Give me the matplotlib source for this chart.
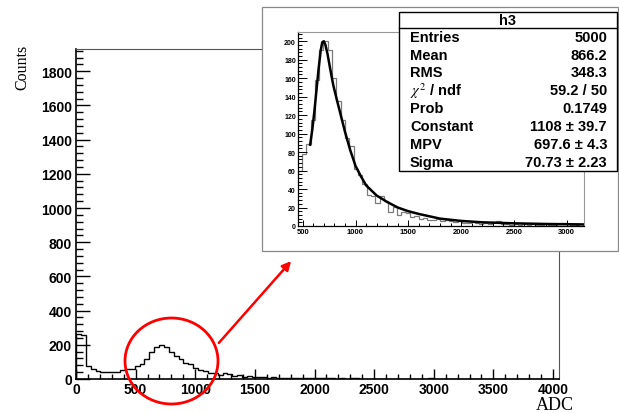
import matplotlib

matplotlib.use("Agg")

import matplotlib.pyplot as plt
import numpy as np
from matplotlib.patches import Ellipse, FancyArrowPatch, Rectangle
from matplotlib.ticker import MultipleLocator

plt.rcParams["font.family"] = ["Liberation Sans", "DejaVu Sans"]
plt.rcParams["mathtext.fontset"] = "stix"

# h3: 100 bins over 0..4096 ADC
bin_width = 40.96
counts = [
    262, 258, 76, 58, 47, 41, 40, 39, 42, 53,
    56, 60, 78, 89, 115, 158, 190, 200, 190, 160,
    135, 115, 95, 87, 62, 55, 45, 34, 33, 25,
    33, 27, 15, 21, 12, 15, 14, 10, 11, 8,
    9, 7, 7, 8, 5, 6, 5, 4, 5, 3,
    3, 4, 3, 2, 3, 2, 4, 5, 2, 2,
    1, 2, 1, 2, 1, 2, 1, 1, 0, 1,
    1, 2, 3, 2, 1, 1, 0, 1, 0, 0,
    1, 0, 0, 0, 0, 1, 0, 0, 0, 0,
    0, 0, 0, 0, 0, 0, 0, 0, 0, 0,
]
edges = np.arange(len(counts) + 1) * bin_width

# Landau fit curve
fit_x = [570, 590, 610, 630, 650, 670, 685, 700, 715, 735, 760, 790, 820, 860,
         900, 950, 1000, 1050, 1100, 1200, 1300, 1400, 1500, 1600, 1800, 2000,
         2200, 2500, 2800, 3160]
fit_y = [88, 104, 124, 147, 170, 190, 199, 200, 196, 186, 170, 152, 138, 120,
         102, 82, 65, 54, 44, 33, 26, 20, 16, 13, 8, 5.5,
         4, 2.9, 2.2, 1.7]

stat_labels = ["Entries", "Mean", "RMS", r"$\chi^{2}$ / ndf", "Prob", "Constant", "MPV", "Sigma"]
stat_values = ["5000", "866.2", "348.3", "59.2 / 50", "0.1749", "1108 \u00b1 39.7",
               "697.6 \u00b1 4.3", "70.73 \u00b1 2.23"]

W, H = 619, 414
fig = plt.figure(figsize=(W / 100, H / 100), dpi=100)


def frac(x0, y0, x1, y1):
    return [x0 / W, 1 - y1 / H, (x1 - x0) / W, (y1 - y0) / H]


# main histogram
ax = fig.add_axes(frac(76, 50, 559, 380))
ax.stairs(counts, edges, color="black", lw=1.0)
ax.set_xlim(0, 4050)
ax.set_ylim(0, 1930)
ax.xaxis.set_major_locator(MultipleLocator(500))
ax.xaxis.set_minor_locator(MultipleLocator(100))
ax.yaxis.set_major_locator(MultipleLocator(200))
ax.yaxis.set_minor_locator(MultipleLocator(40))
ax.tick_params(axis="both", which="both", direction="in", top=False, right=False)
ax.tick_params(axis="y", which="major", length=10.4, width=1, pad=3, labelsize=10)
ax.tick_params(axis="y", which="minor", length=5.2, width=1)
ax.tick_params(axis="x", which="major", length=7.2, width=1, pad=2, labelsize=10)
ax.tick_params(axis="x", which="minor", length=3.6, width=1)
for lab in ax.get_xticklabels() + ax.get_yticklabels():
    lab.set_fontweight("bold")
for s in ("left", "bottom"):
    ax.spines[s].set_linewidth(1.2)
for s in ("top", "right"):
    ax.spines[s].set_linewidth(0.8)
    ax.spines[s].set_color("#555555")

fig.text(22 / W, 1 - 67 / H, "Counts", rotation=90, ha="center", va="center",
         family="Liberation Serif", fontsize=11.5)
fig.text(574 / W, 1 - 410 / H, "ADC", ha="right", va="baseline",
         family="Liberation Serif", fontsize=13)

# overlay for red annotation and inset pad
ov = fig.add_axes([0, 0, 1, 1])
ov.set_xlim(0, W)
ov.set_ylim(H, 0)
ov.axis("off")
ov.add_patch(Ellipse((171.5, 362), 93, 86, fill=False, ec="red", lw=2.0))
ov.add_patch(FancyArrowPatch((217, 346), (293, 260), arrowstyle="-|>",
                             mutation_scale=13, color="red", lw=1.8))
ov.add_patch(Rectangle((262, 8), 356, 244, fc="white", ec="#888888", lw=0.9))

# inset zoom with Landau fit
ins = fig.add_axes(frac(298, 33, 584, 227))
ins.stairs(counts, edges, color="#7a7a7a", lw=0.9)
ins.plot(fit_x, fit_y, color="black", lw=1.8)
ins.set_xlim(455, 3164)
ins.set_ylim(0, 210)
ins.xaxis.set_major_locator(MultipleLocator(500))
ins.xaxis.set_minor_locator(MultipleLocator(100))
ins.yaxis.set_major_locator(MultipleLocator(20))
ins.yaxis.set_minor_locator(MultipleLocator(4))
ins.tick_params(axis="both", which="both", direction="in", top=False, right=False)
ins.tick_params(axis="y", which="major", length=6.2, width=0.7, pad=1.5, labelsize=5)
ins.tick_params(axis="y", which="minor", length=3.1, width=0.7)
ins.tick_params(axis="x", which="major", length=4.2, width=0.7, pad=1.5, labelsize=5.5)
ins.tick_params(axis="x", which="minor", length=2.1, width=0.7)
for lab in ins.get_xticklabels() + ins.get_yticklabels():
    lab.set_fontweight("bold")
for s in ("left", "bottom"):
    ins.spines[s].set_linewidth(0.9)
for s in ("top", "right"):
    ins.spines[s].set_linewidth(0.8)
    ins.spines[s].set_color("#999999")

# stats box
top = fig.add_axes([0, 0, 1, 1])
top.set_xlim(0, W)
top.set_ylim(H, 0)
top.axis("off")
top.add_patch(Rectangle((399, 13), 218, 159, fc="white", ec="black", lw=1.0))
top.plot([399, 617], [29, 29], color="black", lw=1.0)
top.text(508, 21, "h3", ha="center", va="center", fontsize=10.5, fontweight="bold")
for i, (lab, val) in enumerate(zip(stat_labels, stat_values)):
    yy = 37.7 + i * 17.85
    top.text(410, yy, lab, ha="left", va="center", fontsize=10.5, fontweight="bold")
    top.text(607, yy, val, ha="right", va="center", fontsize=10.5, fontweight="bold")

fig.savefig("out.png", dpi=100)
